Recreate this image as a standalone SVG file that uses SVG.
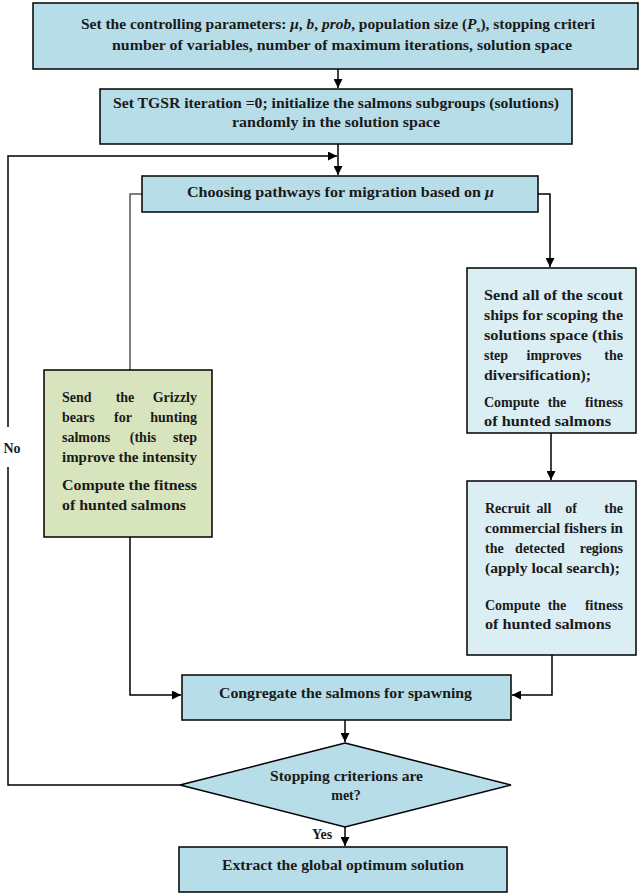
<svg xmlns="http://www.w3.org/2000/svg" width="640" height="893" viewBox="0 0 640 893">
<defs>
<marker id="ah" viewBox="0 0 10 10" refX="10" refY="5" markerWidth="9" markerHeight="9" markerUnits="userSpaceOnUse" orient="auto">
<path d="M0,0 L10,5 L0,10 z" fill="#000"/>
</marker>
</defs>
<style>
.box{fill:#b7dde8;stroke:#000;stroke-width:1.5}
.lt{fill:#dbeef4;stroke:#000;stroke-width:1.5}
.gr{fill:#d7e4bd;stroke:#000;stroke-width:1.5}
text{font-family:"Liberation Serif","Times New Roman",serif;font-weight:bold;font-size:14px;fill:#1a1a1a}
.c{text-anchor:middle}
.e{text-anchor:end}
.ln{fill:none;stroke:#000;stroke-width:1.5}
.gl{fill:none;stroke:#555;stroke-width:1.5}
</style>
<rect width="640" height="893" fill="#fff"/>
<g id="connectors">
<path class="ln" d="M338,69 V88" marker-end="url(#ah)"/>
<path class="ln" d="M338,144 V175" marker-end="url(#ah)"/>
<path class="ln" d="M180,785 H8 V467"/>
<path class="ln" d="M8,427 V156 H337" marker-end="url(#ah)"/>
<path class="gl" d="M142,194 H130 V370"/>
<path class="ln" d="M538,194 H550 V267" marker-end="url(#ah)"/>
<path class="ln" d="M551,433 V480" marker-end="url(#ah)"/>
<path class="ln" d="M130,537 V695 H181" marker-end="url(#ah)"/>
<path class="ln" d="M552,655 V695 H512" marker-end="url(#ah)"/>
<path class="ln" d="M345,720 V742" marker-end="url(#ah)"/>
<path class="ln" d="M345,827 V846" marker-end="url(#ah)"/>
<text x="12" y="453" class="c">No</text>
<text x="322" y="839" class="c">Yes</text>
</g>
<g id="n1">
<rect class="box" x="33" y="3" width="605" height="66"/>
<text x="81" y="29" textLength="514" lengthAdjust="spacingAndGlyphs">Set the controlling parameters: <tspan font-style="italic">μ</tspan>, <tspan font-style="italic">b</tspan>, <tspan font-style="italic">prob</tspan>, population size (<tspan font-style="italic">P</tspan><tspan font-size="9" dy="3">s</tspan><tspan dy="-3">), stopping criteri</tspan></text>
<text x="112" y="50" textLength="460" lengthAdjust="spacingAndGlyphs">number of variables, number of maximum iterations, solution space</text>
</g>
<g id="n2">
<rect class="box" x="100" y="89" width="472" height="55"/>
<text x="113" y="108" textLength="446" lengthAdjust="spacingAndGlyphs">Set TGSR iteration =0; initialize the salmons subgroups (solutions)</text>
<text x="232" y="127" textLength="208" lengthAdjust="spacingAndGlyphs">randomly in the solution space</text>
</g>
<g id="n3">
<rect class="box" x="142" y="176" width="396" height="36"/>
<text x="187" y="197" textLength="307" lengthAdjust="spacingAndGlyphs">Choosing pathways for migration based on <tspan font-style="italic">μ</tspan></text>
</g>
<g id="n4">
<rect class="gr" x="44" y="370" width="168" height="167"/>
<text y="402"><tspan x="62">Send</tspan><tspan x="125" class="c">the</tspan><tspan x="197" class="e">Grizzly</tspan></text>
<text y="422"><tspan x="62">bears</tspan><tspan x="123" class="c">for</tspan><tspan x="197" class="e">hunting</tspan></text>
<text y="442"><tspan x="62">salmons</tspan><tspan x="143" class="c">(this</tspan><tspan x="197" class="e">step</tspan></text>
<text x="62" y="462" textLength="135" lengthAdjust="spacingAndGlyphs">improve the intensity</text>
<text x="62" y="490" textLength="135" lengthAdjust="spacingAndGlyphs">Compute the fitness</text>
<text x="62" y="510" textLength="124" lengthAdjust="spacingAndGlyphs">of hunted salmons</text>
</g>
<g id="n5">
<rect class="lt" x="467" y="268" width="169" height="165"/>
<text x="484" y="300" textLength="139" lengthAdjust="spacingAndGlyphs">Send all of the scout</text>
<text x="484" y="320" textLength="139" lengthAdjust="spacingAndGlyphs">ships for scoping the</text>
<text x="484" y="340" textLength="139" lengthAdjust="spacingAndGlyphs">solutions space (this</text>
<text y="360"><tspan x="484">step</tspan><tspan x="554" class="c">improves</tspan><tspan x="623" class="e">the</tspan></text>
<text x="484" y="380" textLength="107" lengthAdjust="spacingAndGlyphs">diversification);</text>
<text y="407"><tspan x="484">Compute</tspan><tspan x="557" class="c">the</tspan><tspan x="623" class="e">fitness</tspan></text>
<text x="484" y="426" textLength="127" lengthAdjust="spacingAndGlyphs">of hunted salmons</text>
</g>
<g id="n6">
<rect class="lt" x="467" y="481" width="169" height="174"/>
<text y="513"><tspan x="485">Recruit</tspan><tspan x="544" class="c">all</tspan><tspan x="571" class="c">of</tspan><tspan x="623" class="e">the</tspan></text>
<text x="485" y="533" textLength="138" lengthAdjust="spacingAndGlyphs">commercial fishers in</text>
<text y="553"><tspan x="485">the</tspan><tspan x="540" class="c">detected</tspan><tspan x="623" class="e">regions</tspan></text>
<text x="485" y="573" textLength="135" lengthAdjust="spacingAndGlyphs">(apply local search);</text>
<text y="610"><tspan x="485">Compute</tspan><tspan x="557" class="c">the</tspan><tspan x="623" class="e">fitness</tspan></text>
<text x="485" y="629" textLength="126" lengthAdjust="spacingAndGlyphs">of hunted salmons</text>
</g>
<g id="n7">
<rect class="box" x="182" y="675" width="329" height="45"/>
<text x="219" y="698" textLength="253" lengthAdjust="spacingAndGlyphs">Congregate the salmons for spawning</text>
</g>
<g id="n8">
<polygon class="box" points="345,743 511,785 345,827 180,785"/>
<text x="270" y="781" textLength="153" lengthAdjust="spacingAndGlyphs">Stopping criterions are</text>
<text x="346" y="800" class="c">met?</text>
</g>
<g id="n9">
<rect class="box" x="179" y="847" width="328" height="45"/>
<text x="222" y="870" textLength="242" lengthAdjust="spacingAndGlyphs">Extract the global optimum solution</text>
</g>
</svg>
